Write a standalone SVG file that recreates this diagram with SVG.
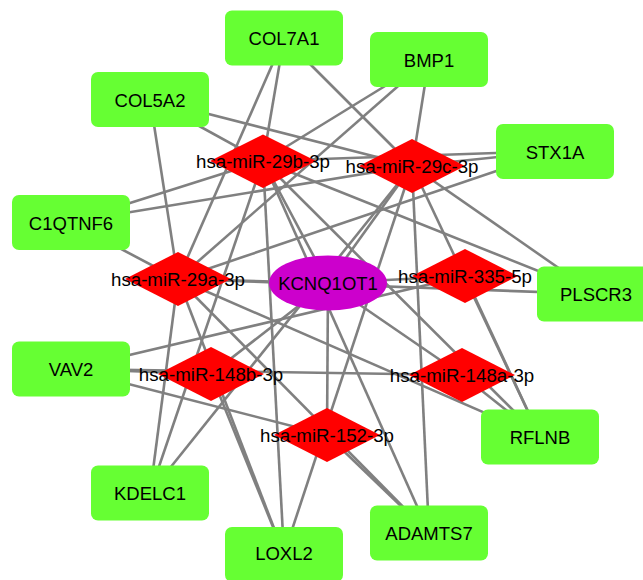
<svg xmlns="http://www.w3.org/2000/svg" width="643" height="580" viewBox="0 0 643 580">
<style>
.e{stroke:#808080;stroke-width:2.6;fill:none}
.g{fill:#66FF33}
.r{fill:#FF0000}
.p{fill:#CC00CC}
.t{font-family:"Liberation Sans",Arial,sans-serif;font-size:18.5px;fill:#000;text-anchor:middle}
.m{font-family:"Liberation Sans",Arial,sans-serif;font-size:18.7px;fill:#000;text-anchor:middle}
</style>
<rect width="643" height="580" fill="#fff"/>
<g id="connectors">
<line class="e" x1="328" y1="283" x2="178" y2="279"/>
<line class="e" x1="328" y1="283" x2="263" y2="161"/>
<line class="e" x1="328" y1="283" x2="412" y2="166"/>
<line class="e" x1="328" y1="283" x2="465" y2="276"/>
<line class="e" x1="328" y1="283" x2="462" y2="375"/>
<line class="e" x1="328" y1="283" x2="211" y2="374"/>
<line class="e" x1="328" y1="283" x2="327" y2="435"/>
<line class="e" x1="178" y1="279" x2="284" y2="38"/>
<line class="e" x1="178" y1="279" x2="150" y2="99"/>
<line class="e" x1="178" y1="279" x2="429" y2="59"/>
<line class="e" x1="178" y1="279" x2="555" y2="151"/>
<line class="e" x1="178" y1="279" x2="70" y2="222"/>
<line class="e" x1="178" y1="279" x2="596" y2="294"/>
<line class="e" x1="178" y1="279" x2="150" y2="493"/>
<line class="e" x1="178" y1="279" x2="284" y2="554"/>
<line class="e" x1="178" y1="279" x2="429" y2="533"/>
<line class="e" x1="178" y1="279" x2="540" y2="437"/>
<line class="e" x1="263" y1="161" x2="284" y2="38"/>
<line class="e" x1="263" y1="161" x2="150" y2="99"/>
<line class="e" x1="263" y1="161" x2="429" y2="59"/>
<line class="e" x1="263" y1="161" x2="555" y2="151"/>
<line class="e" x1="263" y1="161" x2="70" y2="222"/>
<line class="e" x1="263" y1="161" x2="596" y2="294"/>
<line class="e" x1="263" y1="161" x2="150" y2="493"/>
<line class="e" x1="263" y1="161" x2="284" y2="554"/>
<line class="e" x1="263" y1="161" x2="429" y2="533"/>
<line class="e" x1="263" y1="161" x2="540" y2="437"/>
<line class="e" x1="412" y1="166" x2="284" y2="38"/>
<line class="e" x1="412" y1="166" x2="150" y2="99"/>
<line class="e" x1="412" y1="166" x2="429" y2="59"/>
<line class="e" x1="412" y1="166" x2="555" y2="151"/>
<line class="e" x1="412" y1="166" x2="70" y2="222"/>
<line class="e" x1="412" y1="166" x2="596" y2="294"/>
<line class="e" x1="412" y1="166" x2="150" y2="493"/>
<line class="e" x1="412" y1="166" x2="284" y2="554"/>
<line class="e" x1="412" y1="166" x2="429" y2="533"/>
<line class="e" x1="412" y1="166" x2="540" y2="437"/>
<line class="e" x1="211" y1="374" x2="70" y2="369"/>
<line class="e" x1="211" y1="374" x2="284" y2="554"/>
<line class="e" x1="462" y1="375" x2="70" y2="369"/>
<line class="e" x1="462" y1="375" x2="540" y2="437"/>
<line class="e" x1="327" y1="435" x2="70" y2="369"/>
<line class="e" x1="327" y1="435" x2="429" y2="533"/>
<line class="e" x1="465" y1="276" x2="70" y2="369"/>
<line class="e" x1="465" y1="276" x2="540" y2="437"/>
</g>
<g id="n-COL7A1"><rect class="g" x="225" y="10.5" width="118" height="55" rx="7"/><text class="t" x="284" y="45">COL7A1</text></g>
<g id="n-COL5A2"><rect class="g" x="91" y="72" width="118" height="55" rx="7"/><text class="t" x="150" y="106.5">COL5A2</text></g>
<g id="n-BMP1"><rect class="g" x="370" y="32" width="118" height="55" rx="7"/><text class="t" x="429" y="66.5">BMP1</text></g>
<g id="n-STX1A"><rect class="g" x="496" y="124" width="118" height="55" rx="7"/><text class="t" x="555" y="158.5">STX1A</text></g>
<g id="n-C1QTNF6"><rect class="g" x="12" y="195" width="118" height="55" rx="7"/><text class="t" x="71" y="229.5">C1QTNF6</text></g>
<g id="n-VAV2"><rect class="g" x="12" y="341.5" width="118" height="55" rx="7"/><text class="t" x="71" y="376">VAV2</text></g>
<g id="n-PLSCR3"><rect class="g" x="537" y="266.5" width="118" height="55" rx="7"/><text class="t" x="596" y="301">PLSCR3</text></g>
<g id="n-KDELC1"><rect class="g" x="91" y="465.5" width="118" height="55" rx="7"/><text class="t" x="150" y="500">KDELC1</text></g>
<g id="n-LOXL2"><rect class="g" x="225" y="527" width="118" height="55" rx="7"/><text class="t" x="284" y="560">LOXL2</text></g>
<g id="n-RFLNB"><rect class="g" x="481" y="409.5" width="118" height="55" rx="7"/><text class="t" x="540" y="444">RFLNB</text></g>
<g id="n-ADAMTS7"><rect class="g" x="370" y="505.5" width="118" height="55" rx="7"/><text class="t" x="429" y="540">ADAMTS7</text></g>
<g id="n-miR-29b-3p"><polygon class="r" points="263,134.5 316,161 263,188 210,161"/><text class="m" x="263" y="167.5">hsa-miR-29b-3p</text></g>
<g id="n-miR-29c-3p"><polygon class="r" points="412,139 465,166 412,193 359,166"/><text class="m" x="412" y="172.5">hsa-miR-29c-3p</text></g>
<g id="n-miR-29a-3p"><polygon class="r" points="178,252 231,279 178,306 125,279"/><text class="m" x="178" y="285.5">hsa-miR-29a-3p</text></g>
<g id="n-miR-335-5p"><polygon class="r" points="465,249 518,276 465,303 412,276"/><text class="m" x="465" y="282.5">hsa-miR-335-5p</text></g>
<g id="n-miR-148b-3p"><polygon class="r" points="211,347 264,374 211,401 158,374"/><text class="m" x="211" y="380.5">hsa-miR-148b-3p</text></g>
<g id="n-miR-148a-3p"><polygon class="r" points="462,348 515,375 462,402 409,375"/><text class="m" x="462" y="381.5">hsa-miR-148a-3p</text></g>
<g id="n-miR-152-3p"><polygon class="r" points="327,408 380,435 327,462 274,435"/><text class="m" x="327" y="441.5">hsa-miR-152-3p</text></g>
<g id="n-KCNQ1OT1"><ellipse class="p" cx="328" cy="283" rx="59" ry="27.5"/><text class="t" x="328" y="290">KCNQ1OT1</text></g>
</svg>
